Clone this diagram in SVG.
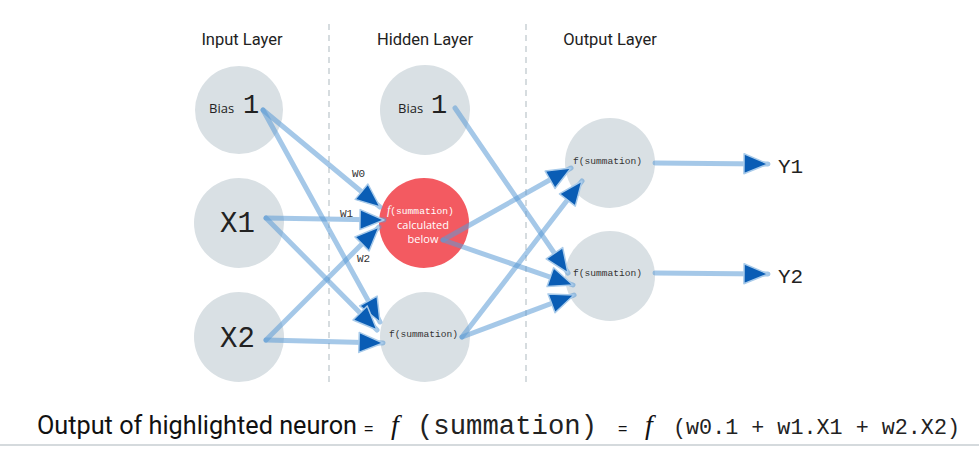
<svg xmlns="http://www.w3.org/2000/svg" width="979" height="449" viewBox="0 0 979 449">
<style>
.node{fill:#d9e0e4}
.red{fill:#f35a61}
.title{font-family:Roboto,"Liberation Sans",sans-serif;font-size:16.5px;fill:#222;text-anchor:middle}
.bias{font-family:"Open Sans","Liberation Sans",sans-serif;font-size:13px;fill:#222}
.one{font-family:"Liberation Mono",monospace;font-size:27px;fill:#222}
.big{font-family:"Liberation Mono",monospace;font-size:29px;fill:#222}
.fs{font-family:"Liberation Mono",monospace;font-size:9.6px;fill:#333}
.w{font-family:"Liberation Mono",monospace;font-size:11px;fill:#333}
.y{font-family:"Liberation Mono",monospace;font-size:21px;fill:#222}
.wt{font-family:"Open Sans","Liberation Sans",sans-serif;font-size:11px;fill:#fff;text-anchor:middle}
.edge{stroke:#5b9bd5;stroke-opacity:0.55;stroke-width:5;fill:none;stroke-linecap:round}
.dash{stroke:#c9d1d5;stroke-width:1.5;stroke-dasharray:6 5}
</style>
<defs>
<marker id="ah" markerUnits="userSpaceOnUse" markerWidth="30" markerHeight="24" refX="24" refY="10" orient="auto" viewBox="-2 -2 30 24">
<path d="M0,0 L24,10 L0,20 Z" fill="#0a5db5" stroke="#a9cbea" stroke-width="1.5" stroke-linejoin="round"/>
</marker>
</defs>
<rect width="979" height="449" fill="#fff"/>
<line class="dash" x1="329" y1="24" x2="329" y2="386"/>
<line class="dash" x1="526" y1="24" x2="526" y2="386"/>
<text class="title" x="242" y="45">Input Layer</text>
<text class="title" x="425" y="45">Hidden Layer</text>
<text class="title" x="610" y="45">Output Layer</text>
<g id="in-bias"><circle class="node" cx="239" cy="110" r="44"/><text class="bias" x="209" y="113">Bias</text><text class="one" x="243" y="113">1</text></g>
<g id="in-x1"><circle class="node" cx="239" cy="223" r="45"/><text class="big" x="220" y="232">X1</text></g>
<g id="in-x2"><circle class="node" cx="239" cy="337" r="45"/><text class="big" x="220" y="347">X2</text></g>
<g id="hid-bias"><circle class="node" cx="425" cy="110" r="45"/><text class="bias" x="398" y="113">Bias</text><text class="one" x="431" y="113">1</text></g>
<g id="hid-red"><circle class="red" cx="424" cy="223" r="45"/><text x="387" y="214" font-family="'Liberation Mono',monospace" font-size="9.6px" fill="#fff"><tspan font-family="'Liberation Serif',serif" font-style="italic" font-size="12px">f</tspan>(summation)</text><text class="wt" x="423" y="229">calculated</text><text class="wt" x="423" y="243">below</text></g>
<g id="hid-bottom"><circle class="node" cx="425" cy="337" r="45"/><text class="fs" x="389" y="337">f(summation)</text></g>
<g id="out-1"><circle class="node" cx="610" cy="163" r="45"/><text class="fs" x="573" y="164">f(summation)</text></g>
<g id="out-2"><circle class="node" cx="610" cy="276" r="45"/><text class="fs" x="573" y="276">f(summation)</text></g>
<g id="connectors">
<line class="edge" x1="263" y1="110" x2="380" y2="207" marker-end="url(#ah)"/>
<line class="edge" x1="263" y1="110" x2="380" y2="322" marker-end="url(#ah)"/>
<line class="edge" x1="266" y1="218" x2="384" y2="220" marker-end="url(#ah)"/>
<line class="edge" x1="266" y1="218" x2="377" y2="330" marker-end="url(#ah)"/>
<line class="edge" x1="266" y1="340" x2="379" y2="227" marker-end="url(#ah)"/>
<line class="edge" x1="266" y1="340" x2="383" y2="343" marker-end="url(#ah)"/>
<line class="edge" x1="455" y1="108" x2="568" y2="273" marker-end="url(#ah)"/>
<line class="edge" x1="443" y1="240" x2="571" y2="168" marker-end="url(#ah)"/>
<line class="edge" x1="443" y1="240" x2="573" y2="285" marker-end="url(#ah)"/>
<line class="edge" x1="462" y1="337" x2="582" y2="181" marker-end="url(#ah)"/>
<line class="edge" x1="462" y1="337" x2="574" y2="295" marker-end="url(#ah)"/>
<line class="edge" x1="655" y1="163" x2="768" y2="164" marker-end="url(#ah)"/>
<line class="edge" x1="655" y1="273" x2="768" y2="274" marker-end="url(#ah)"/>
<text class="w" x="352" y="177">W0</text>
<text class="w" x="340" y="217">W1</text>
<text class="w" x="357" y="262">W2</text>
</g>
<text class="y" x="778" y="173">Y1</text>
<text class="y" x="778" y="283">Y2</text>
<g id="formula">
<text x="37" y="434" font-family="Roboto,'Liberation Sans',sans-serif" font-size="25px" fill="#111" textLength="320" lengthAdjust="spacingAndGlyphs">Output of highlighted neuron</text>
<text x="364" y="434" font-family="'Liberation Sans',sans-serif" font-size="16px" fill="#111">=</text>
<text x="391" y="434" font-family="'Liberation Serif',serif" font-style="italic" font-size="28px" fill="#111">f</text>
<text x="417" y="434" font-family="'Liberation Mono',monospace" font-size="27px" fill="#222" textLength="180" lengthAdjust="spacingAndGlyphs">(summation)</text>
<text x="618" y="434" font-family="'Liberation Sans',sans-serif" font-size="16px" fill="#111">=</text>
<text x="645" y="434" font-family="'Liberation Serif',serif" font-style="italic" font-size="28px" fill="#111">f</text>
<text x="673" y="434" font-family="'Liberation Mono',monospace" font-size="21.5px" fill="#222" textLength="287" lengthAdjust="spacingAndGlyphs">(w0.1 + w1.X1 + w2.X2)</text>
</g>
<line x1="0" y1="445" x2="979" y2="445" stroke="#d5dadd" stroke-width="2"/>
</svg>
